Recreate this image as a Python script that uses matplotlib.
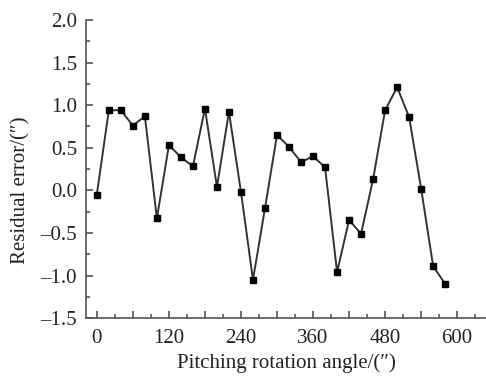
import matplotlib
matplotlib.use("Agg")
import matplotlib.pyplot as plt
from matplotlib.ticker import MultipleLocator, FuncFormatter

# Datos
angle = [0, 20, 40, 60, 80, 100, 120, 140, 160, 180, 200, 220, 240, 260, 280,
         300, 320, 340, 360, 380, 400, 420, 440, 460, 480, 500, 520, 540, 560, 580]
residual = [-0.05, 0.94, 0.94, 0.76, 0.87, -0.33, 0.53, 0.39, 0.28, 0.96, 0.04, 0.92, -0.02, -1.05, -0.21,
            0.65, 0.51, 0.33, 0.40, 0.27, -0.96, -0.35, -0.51, 0.13, 0.94, 1.21, 0.86, 0.02, -0.89, -1.10]
xticks = [0, 60, 120, 180, 240, 300, 360, 420, 480, 540, 600]
xticklabels = ['0', '', '120', '', '240', '', '360', '', '480', '', '600']

plt.rcParams['font.family'] = ['Liberation Serif', 'DejaVu Serif']

fig = plt.figure(figsize=(4.86, 3.76), dpi=100)
ax = fig.add_axes([0.177, 0.154, 0.823, 0.793])

ax.plot(angle, residual, color='#333333', linewidth=1.4, marker='s',
        markersize=4.5, markerfacecolor='black', markeredgecolor='black')

ax.set_xlim(-18, 648)
ax.set_ylim(-1.5, 2.0)
ax.set_xticks(xticks)
ax.set_xticklabels(xticklabels)
ax.xaxis.set_minor_locator(MultipleLocator(30))
ax.yaxis.set_major_locator(MultipleLocator(0.5))
ax.yaxis.set_minor_locator(MultipleLocator(0.25))


def fmt_y(v, pos):
    s = '%.1f' % abs(v)
    return ('\u2013' + s) if v < -1e-9 else s


ax.yaxis.set_major_formatter(FuncFormatter(fmt_y))

ax.spines['top'].set_visible(False)
ax.spines['right'].set_visible(False)
for s in ['left', 'bottom']:
    ax.spines[s].set_color('#555555')
    ax.spines[s].set_linewidth(1.2)

ax.tick_params(which='both', direction='in', colors='#555555', labelcolor='#222222', labelsize=15)
ax.tick_params(which='major', length=5, width=1.2)
ax.tick_params(which='minor', length=3, width=1.2)
ax.tick_params(axis='y', pad=6.5)
ax.tick_params(axis='x', pad=7.5)

ax.set_xlabel("Pitching rotation angle/(\u2033)", fontsize=15, color='#222222', labelpad=4)
ax.set_ylabel("Residual error/(\u2033)", fontsize=15, color='#222222', labelpad=7, y=0.43)

plt.savefig("out.png", dpi=100)
plt.close()
